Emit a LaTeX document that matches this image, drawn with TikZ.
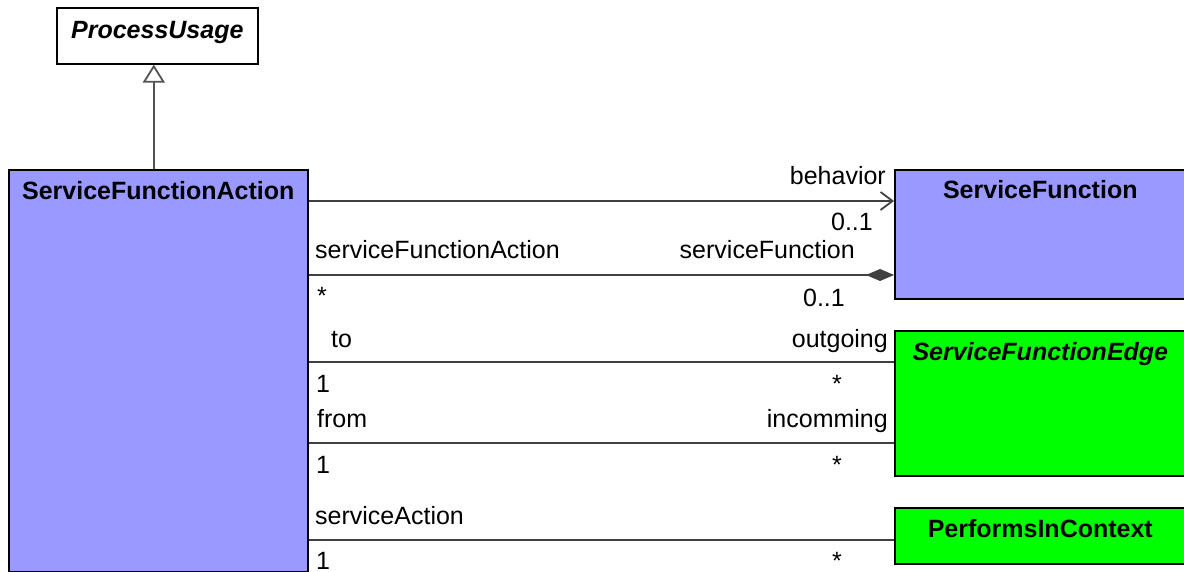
\documentclass[tikz,border=0pt]{standalone}
\usepackage{fontspec}
\setmainfont{Liberation Sans}
\usetikzlibrary{arrows.meta,calc}
\definecolor{umlblue}{HTML}{9999FF}
\definecolor{umlgreen}{HTML}{00FF00}
\definecolor{lineg}{HTML}{404040}
\begin{document}
\begin{tikzpicture}[x=1pt,y=-1pt,
  font=\fontsize{25}{30}\selectfont,
  cls/.style={draw=black, line width=1.6pt, inner sep=0pt, anchor=north west, align=center},
  assoc/.style={draw=lineg, line width=2pt},
  lbl/.style={inner sep=0pt}]
\useasboundingbox (0,0) rectangle (1184,572);
% classes
\node[cls, fill=white, minimum width=201pt, text height=31pt, text depth=25pt] (pu) at (56,7) {\textbf{\textit{ProcessUsage}}};
\node[cls, fill=umlblue, minimum width=299pt, text height=30pt, text depth=372pt] (sfa) at (8,169) {\textbf{ServiceFunctionAction}};
\node[cls, fill=umlblue, minimum width=291pt, text height=29pt, text depth=100pt] (sf) at (894,169) {\textbf{ServiceFunction}};
\node[cls, fill=umlgreen, minimum width=291pt, text height=30pt, text depth=115pt] (sfe) at (894,330) {\textbf{\textit{ServiceFunctionEdge}}};
\node[cls, fill=umlgreen, minimum width=291pt, text height=30pt, text depth=26pt] (pic) at (894,507) {\textbf{PerformsInContext}};
% generalization
\coordinate (g1) at ($(pu.south)+(-3.5,0)$);
\draw[assoc, draw=lineg!90, -{Triangle[open, length=18pt, width=22pt, line width=1.8pt]}] (sfa.north -| g1) -- (g1);
% associations
\coordinate (c1) at ($(sf.north west)+(0,32)$);
\coordinate (c2) at ($(sf.north west)+(0,106)$);
\coordinate (c3) at ($(sfe.north west)+(0,32)$);
\coordinate (c4) at ($(sfe.north west)+(0,113)$);
\coordinate (c5) at ($(pic.north west)+(0,33)$);
\draw[assoc, -{Straight Barb[length=12pt, width=18pt, line width=1.8pt]}] (sfa.east |- c1) -- (c1);
\draw[assoc, -{Diamond[length=28pt, width=12pt, fill=lineg]}] (sfa.east |- c2) -- (c2);
\draw[assoc] (sfa.east |- c3) -- (c3);
\draw[assoc] (sfa.east |- c4) -- (c4);
\draw[assoc] (sfa.east |- c5) -- (c5);
% labels
\node[lbl, anchor=base east] (l1) at (886,185) {behavior};
\node[lbl, anchor=base east] (l2) at (873,231) {0..1};
\node[lbl, anchor=base west] (l3) at (315,259) {serviceFunctionAction};
\node[lbl, anchor=base east] (l4) at (855,259) {serviceFunction};
\node[lbl, anchor=base west] (l5) at (317,305) {*};
\node[lbl, anchor=base east] (l6) at (845,306) {0..1};
\node[lbl, anchor=base west] (l7) at (331,347) {to};
\node[lbl, anchor=base east] (l8) at (888,347) {outgoing};
\node[lbl, anchor=base west] (l9) at (316,392) {1};
\node[lbl, anchor=base] (l10) at (837,392) {*};
\node[lbl, anchor=base west] (l11) at (317,427) {from};
\node[lbl, anchor=base east] (l12) at (888,427) {incomming};
\node[lbl, anchor=base west] (l13) at (316,473) {1};
\node[lbl, anchor=base] (l14) at (837,473) {*};
\node[lbl, anchor=base west] (l15) at (315,524) {serviceAction};
\node[lbl, anchor=base west] (l16) at (316,569) {1};
\node[lbl, anchor=base] (l17) at (837,569) {*};
\end{tikzpicture}
\end{document}
